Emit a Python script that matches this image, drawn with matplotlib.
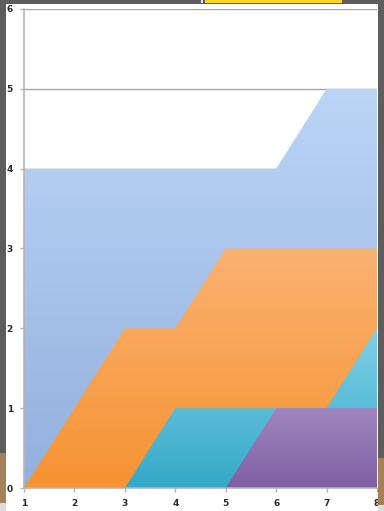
import numpy as np
import matplotlib
matplotlib.use("Agg")
import matplotlib.pyplot as plt
from matplotlib.colors import LinearSegmentedColormap
from matplotlib.patches import Rectangle

# data
x = [1, 2, 3, 4, 5, 6, 7, 8]
s_blue = [4, 4, 4, 4, 4, 4, 5, 5]
s_orange = [0, 1, 2, 2, 3, 3, 3, 3]
s_cyan = [0, 0, 0, 1, 1, 1, 1, 2]
s_purple = [0, 0, 0, 0, 0, 1, 1, 1]
yticks = [0, 1, 2, 3, 4, 5, 6]

series = [
    (s_blue, '#bcd5f6', '#92b0de'),
    (s_orange, '#fab272', '#f69332'),
    (s_cyan, '#80d0e8', '#34a9c8'),
    (s_purple, '#a086c0', '#7f5fa3'),
]

W, H = 384, 511
fig = plt.figure(figsize=(W / 100, H / 100), dpi=100)
fig.patch.set_facecolor('#5d5d5d')

# screenshot surroundings
def fig_rect(x0, y0, x1, y1, color, z):
    # pixel coords, y from top
    fig.patches.append(Rectangle((x0 / W, 1 - y1 / H), (x1 - x0) / W, (y1 - y0) / H,
                                 transform=fig.transFigure, facecolor=color,
                                 edgecolor='none', zorder=z))

fig_rect(0, 453, 6, 503, '#a6805b', -5)
fig_rect(0, 503, 6, 511, '#dcdcdc', -5)
fig_rect(6, 4, 378, 511, 'white', -4)
fig_rect(205, 0, 342, 3, '#ffd422', -4)
fig_rect(201, 0, 203, 3, '#e8e8e8', -4)

ax = fig.add_axes([24 / W, (H - 488) / H, (377 - 24) / W, (488 - 9) / H])
ax.set_facecolor('none')

for i, (vals, top, bot) in enumerate(series):
    z = 2 + i
    ymax = max(vals)
    poly = ax.fill_between(x, 0, vals, color='none', lw=0, zorder=z)
    cmap = LinearSegmentedColormap.from_list('g%d' % i, [bot, top])
    grad = np.linspace(1, 0, 256).reshape(-1, 1)
    im = ax.imshow(grad, cmap=cmap, extent=[1, 8, 0, ymax], aspect='auto',
                   zorder=z, interpolation='bilinear', origin='upper')
    im.set_clip_path(poly.get_paths()[0], transform=ax.transData)

ax.set_xlim(1, 8)
ax.set_ylim(0, 6)

for y in yticks[1:]:
    ax.axhline(y, color='#a8a8a8', lw=1, zorder=1)

for side in ['top', 'right']:
    ax.spines[side].set_visible(False)
for side in ['left', 'bottom']:
    ax.spines[side].set_color('#b4b4b4')
    ax.spines[side].set_linewidth(1.2)
    ax.spines[side].set_zorder(10)

ax.set_xticks(x)
ax.set_yticks(yticks)
ax.tick_params(axis='both', colors='#b4b4b4', labelcolor='#2a2a2a', labelsize=6.5,
               length=3, width=1, pad=5)
for lab in ax.get_xticklabels() + ax.get_yticklabels():
    lab.set_fontweight('bold')

# right edge of screenshot cuts the chart
fig_rect(378, 0, 384, 458, '#5d5d5d', 20)
fig_rect(378, 458, 384, 505, '#a6805b', 20)
fig_rect(378, 505, 384, 511, '#dcdcdc', 20)

fig.savefig('out.png', dpi=100, facecolor=fig.get_facecolor())
